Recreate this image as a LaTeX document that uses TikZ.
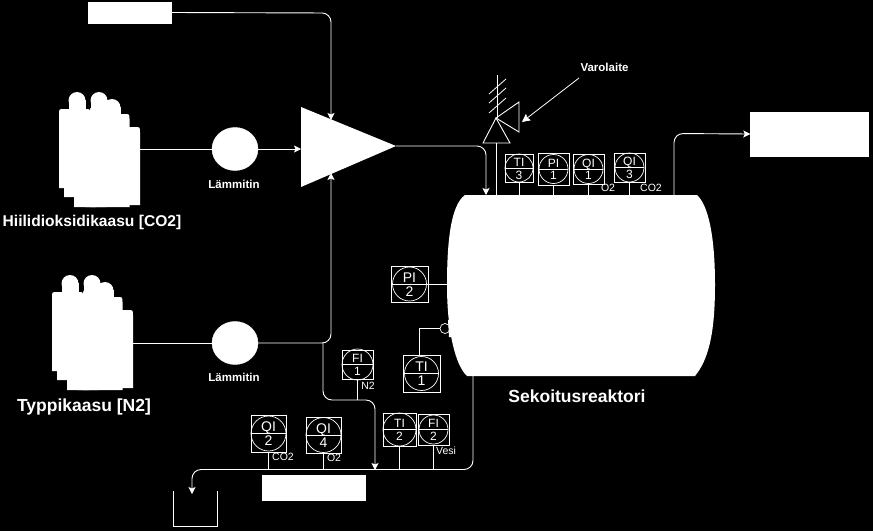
\documentclass[tikz,border=0pt]{standalone}
\usepackage{fontspec}
\setmainfont{Liberation Sans}
\usetikzlibrary{shapes.geometric,arrows.meta}
\tikzset{
  pipe/.style={draw=white,line width=0.9pt,rounded corners=9pt},
  flow/.style={pipe,-{Stealth[length=7pt,width=7pt,inset=1.5pt]}},
  blank/.style={fill=white,draw=white,inner sep=0pt},
  heater/.style={ellipse,fill=white,draw=white,inner sep=0pt,minimum width=46pt,minimum height=43pt},
  instbox/.style={draw=white,line width=0.9pt,inner sep=0pt},
  instcirc/.style={circle,draw=white,line width=0.7pt,inner sep=0pt},
  insttxt/.style={text=white,font=\fontsize{12}{12}\selectfont,inner sep=0pt},
  insttxtbig/.style={text=white,font=\fontsize{14}{14}\selectfont,inner sep=0pt},
  small/.style={text=white,font=\fontsize{10.5}{11}\selectfont,inner sep=0pt},
  heatlab/.style={text=white,font=\fontsize{11.5}{12}\selectfont\bfseries,inner sep=0pt},
  biglab/.style={text=white,font=\fontsize{15.6}{16}\selectfont\bfseries,inner sep=0pt},
  biglabb/.style={text=white,font=\fontsize{17.5}{18}\selectfont\bfseries,inner sep=0pt},
}
% name, cx, cy, box w, box h, diameter, text style, top text, bottom text
\newcommand{\instr}[9]{%
  \node[instbox,minimum width=#4pt,minimum height=#5pt] (#1) at (#2,#3) {};
  \node[instcirc,minimum size=#6pt] (#1c) at (#2,#3) {};
  \draw[white,line width=0.9pt] (#1c.west) -- (#1c.east);
  \node[#7,anchor=base] (#1t) at ([yshift=2pt]#2,#3) {#8};
  \node[#7,anchor=north] (#1b) at ([yshift=-2.5pt]#2,#3) {#9};
}
% one cylinder body: x1, x2, top, bottom
\newcommand{\cylbody}[4]{%
  \fill[white] (#1,#4) -- (#1,#3+5) .. controls (#1,#3) .. (#1+6,#3) -- (#2-6,#3) .. controls (#2,#3) .. (#2,#3+5) -- (#2,#4) -- cycle;
}
\newcommand{\bottles}[2]{%
  \begin{scope}[shift={(#1,#2)}]
    \fill[white] (77,100.5) circle (8.5);
    \fill[white] (99,100.5) circle (8.5);
    \fill[white] (112,107.5) circle (8.5);
    \fill[white] (68.5,100) rectangle (85.5,115);
    \fill[white] (90.5,100) rectangle (107.5,115);
    \fill[white] (103.5,107) rectangle (120.5,118);
    \cylbody{59}{90}{109}{188}
    \cylbody{64}{90}{109}{197}
    \cylbody{74}{96}{115}{207}
    \cylbody{90}{106}{107}{207}
    \cylbody{85}{129.5}{114}{207}
    \cylbody{100}{140}{127}{205}
  \end{scope}
}
\begin{document}
\begin{tikzpicture}[x=1pt,y=-1pt,line cap=butt]
\useasboundingbox (0,0) rectangle (873,531);
\fill[black] (0,0) rectangle (873,531);

% blank boxes
\node[blank,minimum width=83pt,minimum height=21pt] (topbox) at (130,12.5) {};
\node[blank,minimum width=118pt,minimum height=44pt] (outbox) at (809.5,134) {};
\node[blank,minimum width=103pt,minimum height=25pt] (botbox) at (314,487.5) {};

% cylinders
\bottles{0}{0}
\bottles{-7}{183}
\coordinate (co2out) at (140,149);
\coordinate (n2out) at (133,343);

% heaters
\node[heater] (h1) at (235,149) {};
\node[heater] (h2) at (235,343) {};
\node[heatlab] (h1l) at (234,184) {Lämmitin};
\node[heatlab] (h2l) at (234,377) {Lämmitin};

% mixer
\fill[white] (301,107) coordinate (mixa) -- (301,187) coordinate (mixb) -- (396,146) coordinate (mixout) -- cycle;

% reactor
\fill[white] (465,195) -- (697,195) .. controls (708,205) and (715,235) .. (715,285)
  .. controls (715,335) and (708,360) .. (695,376) -- (467,376)
  .. controls (455,365) and (447,330) .. (447,285)
  .. controls (447,240) and (451,205) .. (465,195) -- cycle;
\coordinate (rtop) at (580,195);
\coordinate (rbot) at (473,376);
\coordinate (rleft) at (448,284);
\node[instcirc,minimum size=10pt,fill=black] (tport) at (445,328.5) {};
\fill[white] (448,320) -- (452,320) -- (452,337) -- (449,337) -- (448.5,328) -- cycle;

% labels
\node[biglab] (co2lab) at (92,222) {Hiilidioksidikaasu [CO2]};
\node[biglabb] (n2lab) at (84,407) {Typpikaasu [N2]};
\node[biglabb] (rlab) at (577,396) {Sekoitusreaktori};
\node[heatlab] (varo) at (604.5,67) {Varolaite};

% flows in
\draw[pipe] (co2out) -- (h1.west);
\draw[flow] (h1.east) -- (301,149);
\draw[pipe] (n2out) -- (h2.west);
\coordinate (njoin) at (323,343);
\draw[flow] (h2.east) -- (331,343) -- (331,173);
\draw[flow] (topbox.east) -- (331,13) -- (331,120);
\draw[flow] (mixout) -- (486,146) -- (486,195);

% purge to bottom
\draw[flow] (njoin) -- (323,400) -- (375,400) -- (375,470);

% bottom line
\coordinate (drain) at (192,494);
\draw[flow] (rbot) -- (473,469.5) -- (192,469.5) -- (drain);
\draw[white,line width=0.9pt] (173,491) -- (173,526) -- (217,526) -- (217,491);

% out to box
\draw[flow] (674,195) -- (674,133.5) -- (outbox.west);

% safety valve
\draw[white,line width=0.9pt] (496,195) -- (496,143);
\draw[white,line width=0.9pt] (496,118) -- (483,143) -- (510,143) -- cycle;
\draw[white,line width=0.9pt] (496,118) -- (519,102) -- (519,132) -- cycle;
\draw[white,line width=0.8pt] (497,75) -- (497,118);
\draw[white,line width=0.8pt] (489,94) -- (506,79);
\draw[white,line width=0.8pt] (489,103) -- (506,88);
\draw[white,line width=0.8pt] (489,113) -- (506,98);
\coordinate (varotail) at (579,78);
\draw[white,line width=0.8pt,-{Stealth[length=8pt,width=8pt,inset=1pt]}] (varotail) -- (522,122);

% instruments
\instr{tia}{519}{168}{28}{28}{28}{insttxt}{TI}{3}
\instr{pia}{553.5}{169}{31}{32}{29}{insttxt}{PI}{1}
\instr{qia}{588.5}{169}{31}{30}{29}{insttxt}{QI}{1}
\instr{qic}{629.5}{167.5}{31}{29}{29}{insttxt}{QI}{3}
\instr{pib}{409.5}{284}{37}{36}{34}{insttxtbig}{PI}{2}
\instr{tib}{421.5}{373.5}{37}{37}{34}{insttxtbig}{TI}{1}
\instr{fia}{357.5}{364.5}{31}{29}{31}{insttxt}{FI}{1}
\instr{qib}{268.5}{433.5}{35}{37}{35}{insttxtbig}{QI}{2}
\instr{qid}{323.5}{435}{35}{36}{35}{insttxtbig}{QI}{4}
\instr{tic}{399.5}{429.5}{33}{33}{33}{insttxt}{TI}{2}
\instr{fib}{433.5}{429.5}{31}{31}{29}{insttxt}{FI}{2}

% stems
\foreach \n in {tia,pia,qia,qic}{\draw[white,line width=0.9pt] (\n.south) -- (\n.south |- rtop);}
\draw[white,line width=0.9pt] (pibc.east) -- (rleft);
\draw[white,line width=0.9pt] (419,355) -- (419,328.5) -- (tport.west);
\draw[white,line width=0.9pt] (fia.south) -- (fia.south |- 0,400);
\foreach \n in {qib,qid,tic,fib}{\draw[white,line width=0.9pt] (\n.south) -- (\n.south |- 0,469.5);}

% stream labels
\node[small] (o2a) at (608,188) {O2};
\node[small] (co2a) at (651,188) {CO2};
\node[small] (n2a) at (368,386) {N2};
\node[small] (co2b) at (283,457) {CO2};
\node[small] (o2b) at (334,458) {O2};
\node[small] (vesi) at (446,451) {Vesi};
\end{tikzpicture}
\end{document}
